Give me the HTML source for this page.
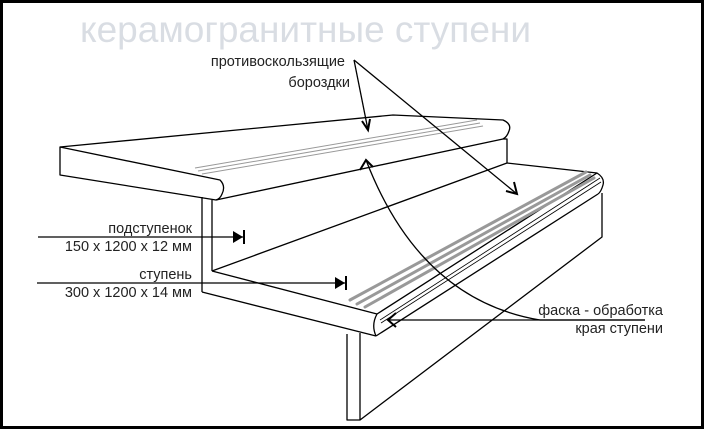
<!DOCTYPE html>
<html><head><meta charset="utf-8"><style>
html,body{margin:0;padding:0;background:#fff}
svg{display:block}
text{font-family:"Liberation Sans",Arial,sans-serif}
</style></head><body>
<svg width="704" height="429" viewBox="0 0 704 429" xmlns="http://www.w3.org/2000/svg">
<rect x="0" y="0" width="704" height="429" fill="#fff"/>
<rect x="1.5" y="1.5" width="701" height="426" fill="none" stroke="#000" stroke-width="3"/>
<text x="80" y="42" font-size="37" fill="#d9dde3">керамогранитные ступени</text>

<g fill="none" stroke="#000" stroke-width="1.3" stroke-linejoin="round">
<!-- top tread -->
<path d="M60,147 L393,115 L503,120 Q512,124 509,131 Q507,137 503,139"/>
<path d="M60,147 L220,180 Q226,186 222,194 Q220,199 216,200 L60,175 Z"/>
<path d="M216,200 L503,139 L507,139 L507,163"/>
<!-- riser -->
<path d="M202,197 L202,292"/>
<path d="M212,200 L212,271"/>
<path d="M212,271 L507,163"/>
<!-- lower tread -->
<path d="M507,163 L597,173 Q605,178 603,185 Q601,192 598,194"/>
<path d="M212,271 L377,314 Q371,325 376,336"/>
<path d="M202,292 L376,336"/>
<path d="M597,173 L377,314"/>
<path d="M598,194 L376,336"/>
<path d="M602,193 L602,237 L360,420 L347,420 L347,334"/>
<path d="M360,420 L360,333"/>
</g>
<path d="M600,178 L380,320" stroke="#000" stroke-width="0.8" fill="none"/>
<path d="M601,182 L381,323" stroke="#000" stroke-width="0.8" fill="none"/>

<!-- grooves -->
<g stroke="#999" stroke-width="1" fill="none">
<path d="M195,168 L477,120"/><path d="M198,171 L480,123"/><path d="M202,174 L483,126"/>
</g>
<g stroke="#999" stroke-width="3" fill="none" stroke-linecap="round">
<path d="M350,300 L586,172"/><path d="M357,304 L590,175"/><path d="M365,307 L594,178"/>
</g>

<!-- annotations -->
<g font-size="14.5" fill="#222">
<text x="345" y="66" text-anchor="end">противоскользящие</text>
<text x="350" y="87" text-anchor="end">бороздки</text>
<text x="192" y="233" text-anchor="end">подступенок</text>
<text x="192" y="251" text-anchor="end">150 x 1200 x 12 мм</text>
<text x="192" y="279" text-anchor="end">ступень</text>
<text x="192" y="297" text-anchor="end">300 x 1200 x 14 мм</text>
<text x="663" y="315" text-anchor="end">фаска - обработка</text>
<text x="663" y="333" text-anchor="end">края ступени</text>
</g>
<g stroke="#000" stroke-width="1.3" fill="none">
<path d="M354,60 L368,130"/>
<path d="M362,121 L368,130 L370,119" stroke-width="2"/>
<path d="M354,60 L517,194"/>
<path d="M506,191 L517,194 L514,182" stroke-width="2"/>
<path d="M38,237 L243,237"/>
<path d="M37,283 L345,283"/>
<path d="M366,160 Q420,300 540,320 L645,320"/>
<path d="M360,170 L366,160 L373,167" stroke-width="2"/>
<path d="M388,320 L645,320"/>
<path d="M396,313 L388,320 L396,327" stroke-width="2"/>
</g>
<path d="M233,231 L243,237 L233,243 Z" fill="#000"/>
<rect x="243" y="230" width="2" height="14" fill="#000"/>
<path d="M335,277 L345,283 L335,289 Z" fill="#000"/>
<rect x="345" y="276" width="2" height="14" fill="#000"/>
</svg>
</body></html>
